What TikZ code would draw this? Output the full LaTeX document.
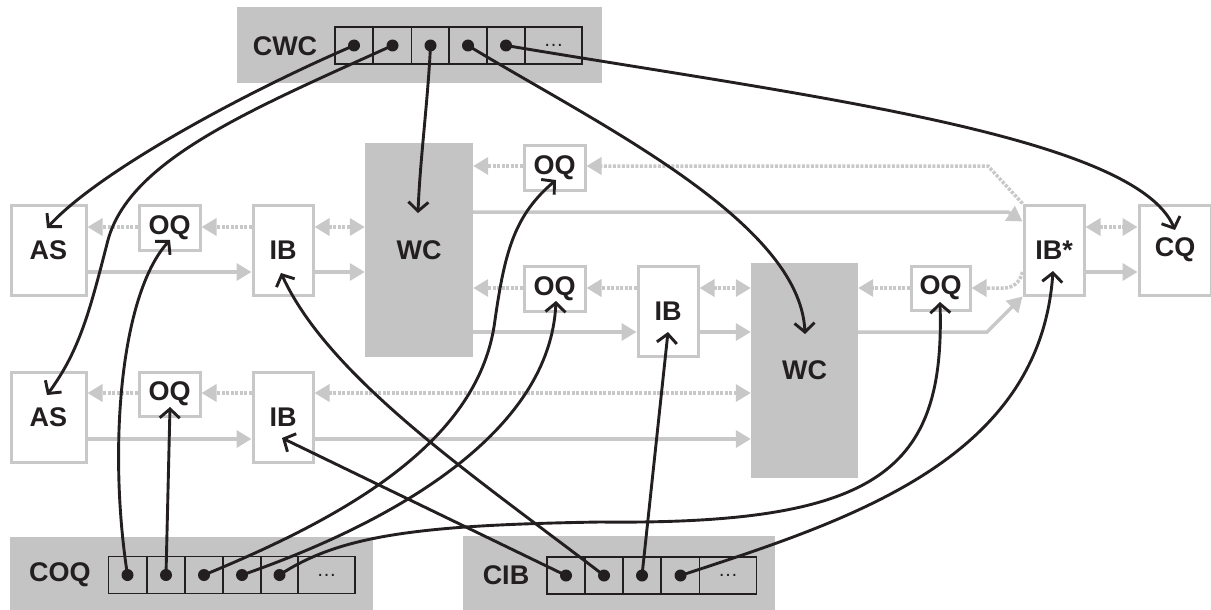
\documentclass[tikz,border=0pt]{standalone}
\usepackage{fontspec}
\setmainfont{Liberation Sans}
\usetikzlibrary{arrows.meta}
\definecolor{gline}{RGB}{200,200,200}
\definecolor{gfill}{RGB}{196,196,196}
\definecolor{ink}{RGB}{35,31,32}
\tikzset{
  gt/.tip={Triangle[length=15pt,width=17pt]},
  ct/.tip={Straight Barb[length=9pt,width=20pt]},
  box/.style={draw=gline, line width=3pt, fill=white, inner sep=0pt, text=ink,
    font=\fontsize{27}{29}\selectfont\bfseries},
  wcbox/.style={fill=gfill, inner sep=0pt, text=ink, font=\fontsize{27}{29}\selectfont\bfseries},
  cont/.style={fill=gfill, inner sep=0pt},
  lbl/.style={text=ink, font=\fontsize{27}{30}\selectfont\bfseries, inner sep=0pt},
  cell/.style={draw=ink, line width=1.3pt, minimum height=37pt, minimum width=38pt, inner sep=0pt},
  wide/.style={minimum width=57pt, font=\fontsize{20}{22}\selectfont, text=ink},
  gsol/.style={draw=gline, line width=3.5pt, -gt},
  gdot/.style={draw=gline, line width=3.5pt, dash pattern=on 3pt off 1.5pt, -gt},
  gdd/.style={draw=gline, line width=3.5pt, dash pattern=on 3pt off 1.5pt, gt-gt},
  conn/.style={draw=ink, line width=2.9pt, -ct},
  dot/.style={fill=ink}
}
\begin{document}
\begin{tikzpicture}[x=1pt,y=-1pt]
\useasboundingbox (0,0) rectangle (1211,610);

% containers
\node[cont, minimum width=365pt, minimum height=76pt] (CWC) at (419.5,45) {};
\node[cont, minimum width=363pt, minimum height=80pt] (COQ) at (191.5,577) {};
\node[cont, minimum width=312pt, minimum height=80pt] (CIB) at (619,576) {};
\node[lbl] (CWClbl) at (285,46) {CWC};
\node[lbl] (COQlbl) at (60,575) {COQ};
\node[lbl] (CIBlbl) at (506,575) {CIB};

% cells CWC
\node[cell] (w1) at (354,45.5) {};
\node[cell] (w2) at (392.5,45.5) {};
\node[cell] (w3) at (430.5,45.5) {};
\node[cell] (w4) at (468,45.5) {};
\node[cell] (w5) at (506,45.5) {};
\node[cell, wide] (w6) at (553.5,45.5) {…};
% cells COQ
\node[cell] (q1) at (127.5,575) {};
\node[cell] (q2) at (166,575) {};
\node[cell] (q3) at (204,575) {};
\node[cell] (q4) at (242,575) {};
\node[cell] (q5) at (279.5,575) {};
\node[cell, wide] (q6) at (326.5,575) {…};
% cells CIB
\node[cell] (i1) at (566,575.5) {};
\node[cell] (i2) at (604,575.5) {};
\node[cell] (i3) at (642,575.5) {};
\node[cell] (i4) at (680.5,575.5) {};
\node[cell, wide] (i5) at (728,575.5) {…};

% main boxes
\node[box, minimum width=75pt, minimum height=90pt] (AS1) at (48.5,250) {AS};
\node[box, minimum width=61pt, minimum height=45pt] (OQ1) at (169.5,227.5) {OQ};
\node[box, minimum width=60pt, minimum height=90pt] (IB1) at (283,250) {IB};
\node[wcbox, minimum width=108pt, minimum height=214pt] (WC1) at (419,250) {WC};
\node[box, minimum width=61pt, minimum height=45pt] (OQ2) at (554.5,167.5) {OQ};
\node[box, minimum width=61pt, minimum height=45pt] (OQ3) at (554.5,288.5) {OQ};
\node[box, minimum width=60pt, minimum height=90pt] (IB2) at (668,311) {IB};
\node[wcbox, minimum width=107pt, minimum height=215pt] (WC2) at (804.5,370.5) {WC};
\node[box, minimum width=59pt, minimum height=44pt] (OQ4) at (940.5,288) {OQ};
\node[box, minimum width=60pt, minimum height=90pt] (IBs) at (1054,250) {IB*};
\node[box, minimum width=72pt, minimum height=90pt] (CQ) at (1175,250) {CQ};
\node[box, minimum width=75pt, minimum height=90pt] (AS2) at (48.5,417) {AS};
\node[box, minimum width=61pt, minimum height=44pt] (OQ5) at (169.5,394) {OQ};
\node[box, minimum width=60pt, minimum height=90pt] (IB3) at (283,417) {IB};

% row coordinates
\coordinate (r1d) at (0,227);
\coordinate (r1s) at (0,272);
\coordinate (rtd) at (0,166);
\coordinate (rts) at (0,212);
\coordinate (rmd) at (0,288);
\coordinate (rms) at (0,332);
\coordinate (r2d) at (0,393);
\coordinate (r2s) at (0,439);
\coordinate (k1) at (988,166);
\coordinate (k2) at (1008,212);
\coordinate (k3) at (1004,288);
\coordinate (k4) at (987,332);

% gray connectors
\draw[gdot] (OQ1.west |- r1d) -- (AS1.east |- r1d);
\draw[gdot] (IB1.west |- r1d) -- (OQ1.east |- r1d);
\draw[gdd] (IB1.east |- r1d) -- (WC1.west |- r1d);
\draw[gsol] (AS1.east |- r1s) -- (IB1.west |- r1s);
\draw[gsol] (IB1.east |- r1s) -- (WC1.west |- r1s);
\draw[gdot] (OQ2.west |- rtd) -- (WC1.east |- rtd);
\draw[gdot] (IBs.north west) -- (k1) -- (OQ2.east |- rtd);
\draw[gsol] (WC1.east |- rts) -- (k2) -- ([yshift=-18pt]IBs.north west);
\draw[gdot] (OQ3.west |- rmd) -- (WC1.east |- rmd);
\draw[gdot] (IB2.west |- rmd) -- (OQ3.east |- rmd);
\draw[gdd] (IB2.east |- rmd) -- (WC2.west |- rmd);
\draw[gsol] (WC1.east |- rms) -- (IB2.west |- rms);
\draw[gsol] (IB2.east |- rms) -- (WC2.west |- rms);
\draw[gdot] (OQ4.west |- rmd) -- (WC2.east |- rmd);
\draw[gdot] (IBs.west |- r1s) .. controls (1020,283) and (1012,288) .. (k3) -- (OQ4.east |- rmd);
\draw[gsol] (WC2.east |- rms) -- (k4) -- (IBs.south west);
\draw[gdd] (IBs.east |- r1d) -- (CQ.west |- r1d);
\draw[gsol] (IBs.east |- r1s) -- (CQ.west |- r1s);
\draw[gdot] (OQ5.west |- r2d) -- (AS2.east |- r2d);
\draw[gdot] (IB3.west |- r2d) -- (OQ5.east |- r2d);
\draw[gdd] (WC2.west |- r2d) -- (IB3.east |- r2d);
\draw[gsol] (AS2.east |- r2s) -- (IB3.west |- r2s);
\draw[gsol] (IB3.east |- r2s) -- (WC2.west |- r2s);

% tip coordinates
\coordinate (tAS1) at (47,228);
\coordinate (tAS2) at (47,395);
\coordinate (tWC1) at (418,213);
\coordinate (tWC2) at (805,334);
\coordinate (tCQ) at (1175,230);
\coordinate (tOQ1) at (170,240);
\coordinate (tOQ5) at (170,407);
\coordinate (tOQ2) at (556,180);
\coordinate (tOQ3) at (556,301);
\coordinate (tOQ4) at (940,302);
\coordinate (tIB3) at (282,438);
\coordinate (tIB1) at (281,273);
\coordinate (tIB2) at (668,332);
\coordinate (tIBs) at (1053,271);

% black connectors
\draw[conn] (w1.center) .. controls (250,90) and (100,170) .. (tAS1);
\draw[conn] (w2.center) .. controls (250,110) and (130,160) .. (108,240) .. controls (90,310) and (80,350) .. (tAS2);
\draw[conn] (w3.center) .. controls (428,100) and (420,160) .. (tWC1);
\draw[conn] (w4.center) .. controls (590,120) and (800,220) .. (tWC2);
\draw[conn] (w5.center) .. controls (800,95) and (1135,135) .. (tCQ);
\draw[conn] (q1.center) .. controls (108,450) and (120,295) .. (tOQ1);
\draw[conn] (q2.center) -- (tOQ5);
\draw[conn] (q3.center) .. controls (350,515) and (480,440) .. (495,320) .. controls (505,250) and (515,215) .. (tOQ2);
\draw[conn] (q4.center) .. controls (400,520) and (550,430) .. (tOQ3);
\draw[conn] (q5.center) .. controls (340,535) and (420,525) .. (600,522) .. controls (880,525) and (945,470) .. (tOQ4);
\draw[conn] (i1.center) -- (tIB3);
\draw[conn] (i2.center) .. controls (480,480) and (330,380) .. (tIB1);
\draw[conn] (i3.center) -- (tIB2);
\draw[conn] (i4.center) .. controls (850,520) and (1040,460) .. (tIBs);

% dots
\foreach \n in {w1,w2,w3,w4,w5,q1,q2,q3,q4,q5,i1,i2,i3,i4}
  \fill[dot] (\n.center) circle (6pt);
\end{tikzpicture}
\end{document}
